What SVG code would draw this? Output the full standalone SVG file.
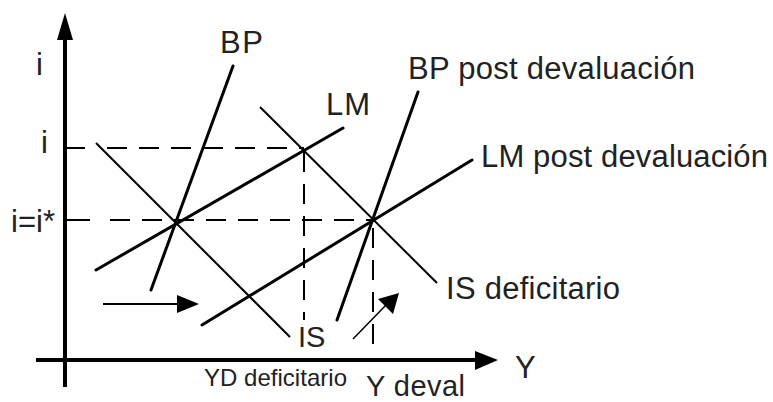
<svg xmlns="http://www.w3.org/2000/svg" width="773" height="402" viewBox="0 0 773 402">
<style>
.t{font-family:"Liberation Sans",Arial,sans-serif;fill:#222;font-size:31px}
.ax{stroke:#000;stroke-width:4;fill:none}
.thick{stroke:#000;stroke-width:3;fill:none;stroke-linecap:round}
.thin{stroke:#000;stroke-width:2;fill:none}
.dash{stroke:#000;stroke-width:2;fill:none;stroke-dasharray:20 12}
.head{fill:#000}
</style>
<rect width="773" height="402" fill="#fff"/>
<g id="axes">
<line class="ax" x1="65" y1="387" x2="65" y2="36"/>
<polygon class="head" points="65,13 57,40 73,40"/>
<line class="ax" x1="36" y1="360" x2="477" y2="360"/>
<polygon class="head" points="498,360 475,351 475,370"/>
</g>
<g id="guides">
<line class="thin" x1="65" y1="148" x2="85" y2="148"/>
<line class="dash" x1="107" y1="148" x2="304" y2="148"/>
<line class="thin" x1="65" y1="220" x2="90" y2="220"/>
<line class="dash" x1="110" y1="220" x2="373" y2="220"/>
<line class="dash" x1="304" y1="152" x2="304" y2="320"/>
<line class="dash" x1="373" y1="228" x2="373" y2="352"/>
</g>
<g id="connectors">
<line id="bp" class="thick" x1="151" y1="290" x2="233" y2="66"/>
<line id="is" class="thin" x1="96" y1="143" x2="290" y2="337"/>
<line id="lm" class="thick" x1="96" y1="270" x2="343" y2="128"/>
<line id="is-def" class="thin" x1="260" y1="107" x2="437" y2="283"/>
<line id="bp-post" class="thick" x1="418" y1="92" x2="337" y2="320"/>
<line id="lm-post" class="thick" x1="202" y1="325" x2="472" y2="160"/>
<line class="thin" x1="103" y1="304" x2="180" y2="304"/>
<polygon class="head" points="199,304 177,295 177,313"/>
<line stroke="#000" stroke-width="1.5" x1="353" y1="339" x2="386" y2="305"/>
<polygon class="head" points="399,293 378,299 393,314"/>
</g>
<g id="labels">
<text class="t" x="36" y="75">i</text>
<text class="t" x="41" y="153">i</text>
<text class="t" x="11" y="232" textLength="44">i=i*</text>
<text class="t" x="220" y="53" textLength="43">BP</text>
<text class="t" x="326" y="115" textLength="44">LM</text>
<text class="t" x="408" y="79" textLength="287">BP post devaluación</text>
<text class="t" x="481" y="167" textLength="287">LM post devaluación</text>
<text class="t" x="446" y="299" textLength="174">IS deficitario</text>
<text class="t" x="298" y="347" style="font-size:29px">IS</text>
<text class="t" x="204" y="386" style="font-size:24px" textLength="143">YD deficitario</text>
<text class="t" x="366" y="396" style="font-size:29px" textLength="99">Y deval</text>
<text class="t" x="515" y="378">Y</text>
</g>
</svg>
